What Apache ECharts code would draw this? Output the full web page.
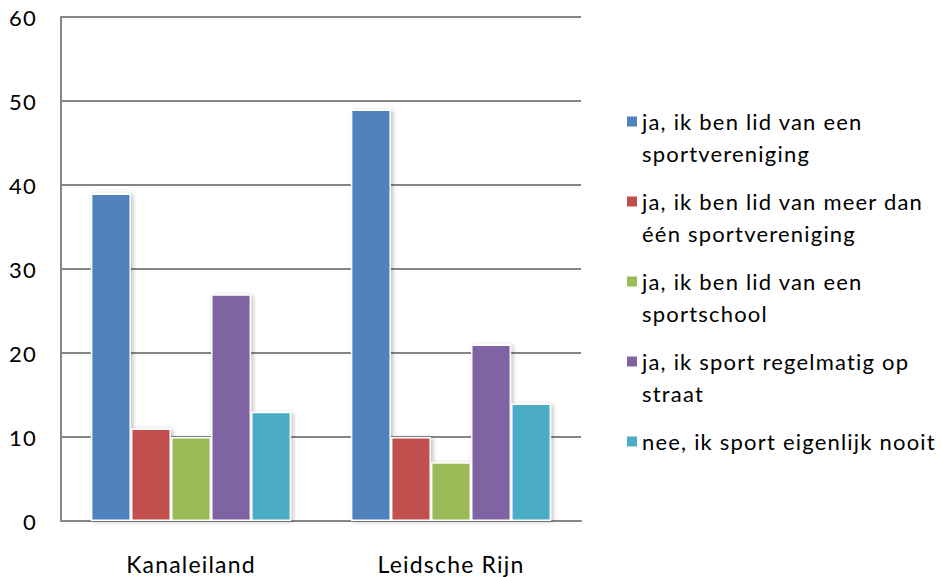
<!DOCTYPE html>
<html>
<head>
<meta charset="utf-8">
<script src="https://cdn.jsdelivr.net/npm/echarts@6/dist/echarts.min.js"></script>
<style>
html,body{margin:0;padding:0;background:#fff}
#c{width:941px;height:577px}
#c svg text{letter-spacing:1.2px}
</style>
</head>
<body>
<div id="c"></div>
<script>
const categories = ['Kanaleiland', 'Leidsche Rijn'];
const seriesNames = [
  'ja, ik ben lid van een\nsportvereniging',
  'ja, ik ben lid van meer dan\néén sportvereniging',
  'ja, ik ben lid van een\nsportschool',
  'ja, ik sport regelmatig op\nstraat',
  'nee, ik sport eigenlijk nooit'
];
const lidVereniging = [39, 49];
const lidMeerVerenigingen = [11, 10];
const lidSportschool = [10, 7];
const sportStraat = [27, 21];
const sportNooit = [13, 14];
const colors = ['#4F81BD', '#C0504D', '#9BBB59', '#8064A2', '#4BACC6'];
const yTicks = { min: 0, max: 60, interval: 10 };

const values = [lidVereniging, lidMeerVerenigingen, lidSportschool, sportStraat, sportNooit];
const font = 'Lato, "Open Sans", sans-serif';
const LH = 32;

const chart = echarts.init(document.getElementById('c'), null, { renderer: 'svg' });
chart.setOption({
  animation: false,
  color: colors,
  grid: { left: 61, right: 360, top: 17, bottom: 56, containLabel: false },
  xAxis: {
    type: 'category',
    data: categories,
    axisTick: { show: false },
    axisLine: { lineStyle: { color: '#868686', width: 2 } },
    axisLabel: { color: '#000', fontSize: 23, fontFamily: font, margin: 31 }
  },
  yAxis: {
    type: 'value',
    min: yTicks.min, max: yTicks.max, interval: yTicks.interval,
    axisLine: { show: true, lineStyle: { color: '#868686', width: 2 } },
    axisTick: { show: false },
    splitLine: { lineStyle: { color: '#868686', width: 2 } },
    axisLabel: { color: '#000', fontSize: 22, fontFamily: font, margin: 24 }
  },
  legend: {
    orient: 'vertical',
    left: 627,
    top: 121.5 - 1.5 * LH,
    padding: 0,
    itemWidth: 10,
    itemHeight: 10,
    itemGap: 80 - 3 * LH,
    itemStyle: { borderWidth: 0 },
    icon: 'rect',
    textStyle: { fontSize: 22, fontFamily: font, color: '#000', lineHeight: LH },
    formatter: function (name) {
      return name.indexOf('\n') >= 0 ? ' \n' + name : ' \n' + name + '\n ';
    },
    data: seriesNames
  },
  series: seriesNames.map((n, i) => ({
    name: n,
    type: 'bar',
    data: values[i],
    barGap: '0%',
    barCategoryGap: '23%',
    itemStyle: {
      color: colors[i],
      borderColor: '#fff',
      borderWidth: 1.5,
      shadowColor: 'rgba(0,0,0,0.25)',
      shadowBlur: 4,
      shadowOffsetX: 2,
      shadowOffsetY: 1
    }
  }))
});
</script>
</body>
</html>
